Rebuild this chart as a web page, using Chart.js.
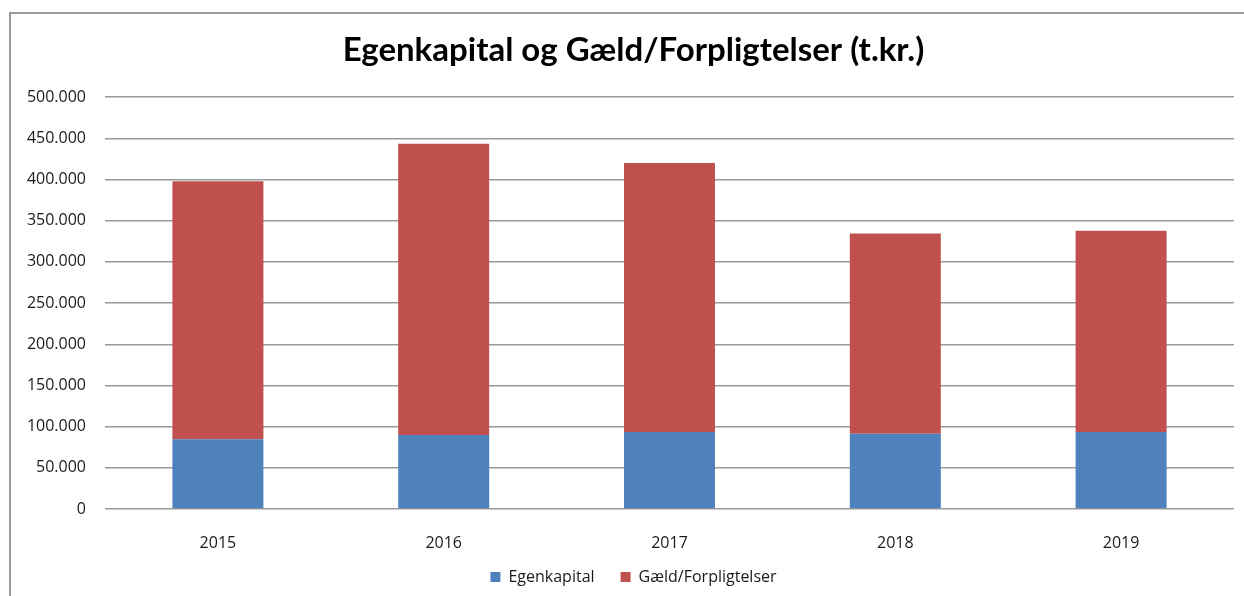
<!DOCTYPE html>
<html>
<head>
<meta charset="utf-8">
<script src="https://cdn.jsdelivr.net/npm/chart.js@4/dist/chart.umd.min.js"></script>
<style>
  html, body { margin: 0; padding: 0; background: #fff; }
  #wrap { position: relative; width: 1244px; height: 596px; }
  canvas { display: block; }
</style>
</head>
<body>
<div id="wrap"><canvas id="c" width="1244" height="596"></canvas></div>
<script>
const years = ['2015', '2016', '2017', '2018', '2019'];
const egenkapital = [84600, 90000, 93600, 91500, 93600];
const gaeld = [313400, 353600, 326600, 243100, 244300];
const seriesNames = ['Egenkapital', 'Gæld/Forpligtelser'];
const chartTitle = 'Egenkapital og Gæld/Forpligtelser (t.kr.)';
const yMin = 0, yMax = 500000, yStep = 50000;

function fmt(v) {
  return String(Math.round(v)).replace(/\B(?=(\d{3})+(?!\d))/g, '.');
}

const frame = {
  id: 'frame',
  beforeDraw(chart) {
    const ctx = chart.ctx;
    ctx.save();
    ctx.fillStyle = '#fff';
    ctx.fillRect(0, 0, chart.width, chart.height);
    ctx.strokeStyle = '#9a9a9a';
    ctx.lineWidth = 2;
    ctx.beginPath();
    ctx.moveTo(10, chart.height);
    ctx.lineTo(10, 13);
    ctx.lineTo(chart.width, 13);
    ctx.stroke();
    ctx.restore();
  }
};

const tickFont = { family: "'Open Sans', 'Liberation Sans', sans-serif", size: 16 };

new Chart(document.getElementById('c'), {
  type: 'bar',
  data: {
    labels: years,
    datasets: [
      { label: seriesNames[0], data: egenkapital, backgroundColor: '#4F81BD', borderWidth: 0 },
      { label: seriesNames[1], data: gaeld, backgroundColor: '#C0504D', borderWidth: 0 }
    ]
  },
  options: {
    responsive: false,
    animation: false,
    devicePixelRatio: 1,
    layout: { padding: { left: 33, right: 10, top: 0, bottom: 1 } },
    datasets: { bar: { categoryPercentage: 1, barPercentage: 0.403 } },
    plugins: {
      title: {
        display: true,
        text: chartTitle,
        color: '#000',
        font: { family: "Lato, 'Open Sans', sans-serif", size: 33, weight: 'bold' },
        padding: { top: 31, bottom: 26.6 }
      },
      legend: {
        position: 'bottom',
        labels: {
          boxWidth: 10, boxHeight: 10, padding: 26,
          color: '#1a1a1a',
          font: tickFont
        }
      },
      tooltip: { enabled: false }
    },
    scales: {
      x: {
        stacked: true,
        grid: { display: false, drawTicks: false },
        border: { display: false },
        ticks: { color: '#1a1a1a', font: tickFont, padding: 24.4, maxRotation: 0 },
        afterFit(scale) { scale.height = 34; scale._computeLabelArea = () => undefined; }
      },
      y: {
        stacked: true,
        min: yMin, max: yMax,
        grid: { color: '#9a9a9a', lineWidth: 1.5, drawTicks: false },
        border: { display: false },
        ticks: { stepSize: yStep, color: '#1a1a1a', font: tickFont, padding: 19, callback: (v) => fmt(v) },
        afterFit(scale) { scale.width = 72; scale._computeLabelArea = () => undefined; }
      }
    }
  },
  plugins: [frame]
});
</script>
</body>
</html>
